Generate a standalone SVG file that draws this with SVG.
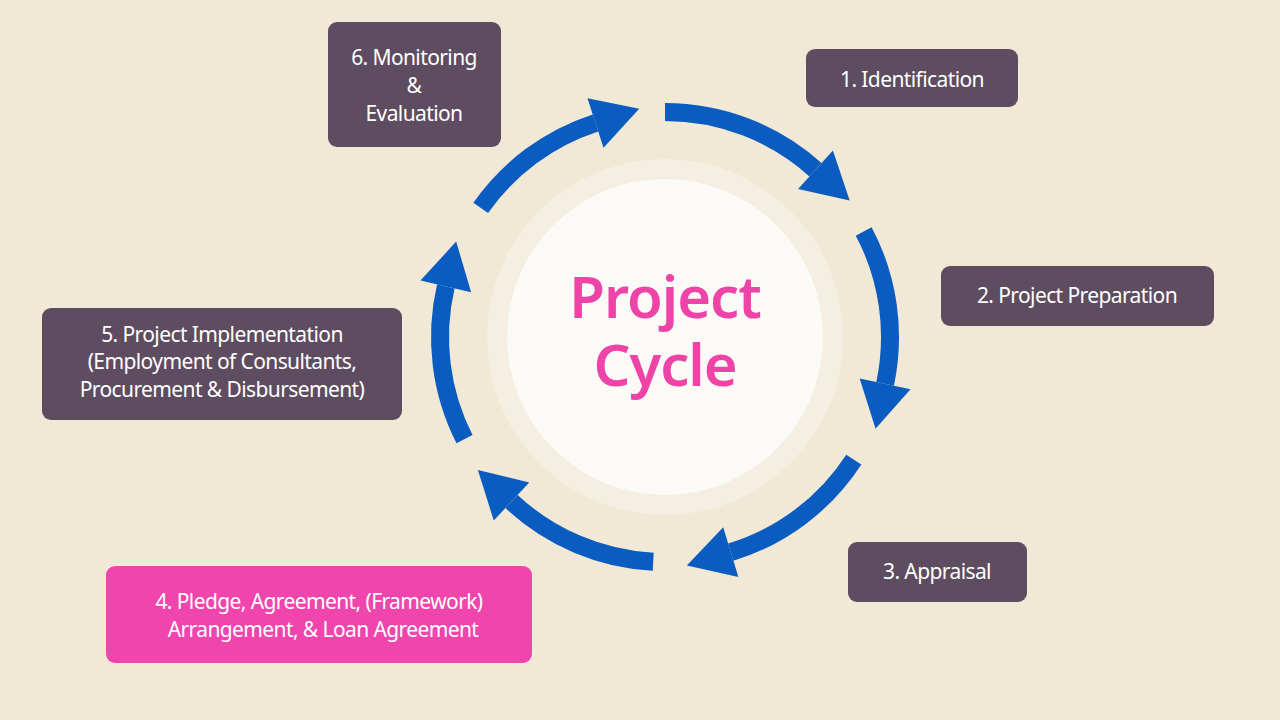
<svg xmlns="http://www.w3.org/2000/svg" width="1280" height="720" viewBox="0 0 1280 720">
<style>
.box{fill:#5e4d60}
.t{font-family:"Noto Sans","Liberation Sans",sans-serif;font-size:21px;fill:#fff;text-anchor:middle;letter-spacing:-0.6px}
.arc{fill:none;stroke:#0b5cc0;stroke-width:18}
.h{font-family:"Noto Sans","Liberation Sans",sans-serif;font-size:58px;font-weight:600;fill:#ee44a8;text-anchor:middle;letter-spacing:-1px}
</style>
<defs>
<marker id="ah" markerUnits="userSpaceOnUse" orient="auto" refX="0" refY="0" markerWidth="60" markerHeight="60" viewBox="0 -30 50 60" overflow="visible">
<path d="M0,-26 L46,0 L0,26 z" fill="#0b5cc0"/>
</marker>
</defs>
<rect width="1280" height="720" fill="#f1e9d6"/>
<circle cx="665" cy="337" r="178" fill="#f4efe1"/>
<circle cx="665" cy="337" r="158" fill="#fbfaf6"/>
<g id="title">
<text class="h" x="665" y="318">Project</text>
<text class="h" x="665" y="386">Cycle</text>
</g>
<g id="connectors">
<path class="arc" marker-end="url(#ah)" d="M665,112 A225,225 0 0 1 815.5,169.8"/>
<path class="arc" marker-end="url(#ah)" d="M863.7,231.5 A225,225 0 0 1 885.1,383.8"/>
<path class="arc" marker-end="url(#ah)" d="M853.8,459.6 A225,225 0 0 1 730.8,552.2"/>
<path class="arc" marker-end="url(#ah)" d="M653.2,561.8 A225,225 0 0 1 511.5,501.5"/>
<path class="arc" marker-end="url(#ah)" d="M464.5,439.2 A225,225 0 0 1 445.8,286.4"/>
<path class="arc" marker-end="url(#ah)" d="M480.7,207.9 A225,225 0 0 1 595.5,123"/>
</g>
<g id="n1"><rect class="box" x="806" y="49" width="212" height="58" rx="9"/><text class="t" x="912" y="87">1. Identification</text></g>
<g id="n2"><rect class="box" x="941" y="266" width="273" height="60" rx="9"/><text class="t" x="1077" y="303">2. Project Preparation</text></g>
<g id="n3"><rect class="box" x="848" y="542" width="179" height="60" rx="9"/><text class="t" x="937" y="579">3. Appraisal</text></g>
<g id="n4"><rect x="106" y="566" width="426" height="97" rx="9" fill="#ef45ac"/><text class="t" x="319" y="609">4. Pledge, Agreement, (Framework)</text><text class="t" x="323" y="637">Arrangement,  &amp; Loan Agreement</text></g>
<g id="n5"><rect class="box" x="42" y="308" width="360" height="112" rx="9"/><text class="t" x="222" y="342">5. Project Implementation</text><text class="t" x="222" y="369">(Employment of Consultants,</text><text class="t" x="222" y="397">Procurement &amp; Disbursement)</text></g>
<g id="n6"><rect class="box" x="328" y="22" width="173" height="125" rx="9"/><text class="t" x="414" y="65">6. Monitoring</text><text class="t" x="414" y="93">&amp;</text><text class="t" x="414" y="121">Evaluation</text></g>
</svg>
